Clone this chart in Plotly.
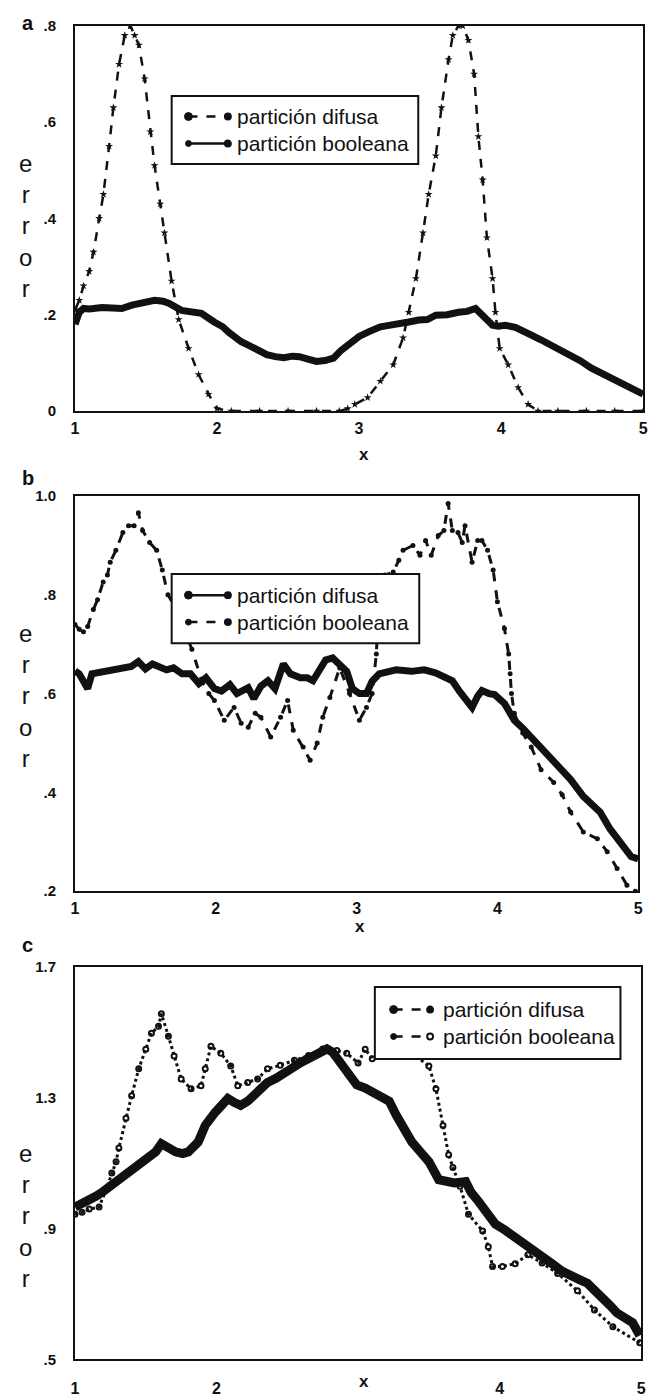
import plotly.graph_objects as go

# ---------------- data ----------------
# panel a
xa_dif = [1.0,1.03,1.06,1.1,1.19,1.26,1.33,1.4,1.47,1.56,1.62,1.66,1.75,1.82,1.89,1.98,2.04,2.08,2.13,2.17,2.22,2.26,2.3,2.35,2.41,2.47,2.53,2.58,2.64,2.7,2.76,2.82,2.87,2.93,3.0,3.07,3.15,3.21,3.28,3.35,3.42,3.48,3.54,3.62,3.7,3.76,3.82,3.87,3.91,3.94,3.98,4.03,4.1,4.15,4.21,4.28,4.35,4.42,4.49,4.56,4.63,4.7,4.77,4.84,4.91,4.98,5.0]
ya_dif = [0.18,0.205,0.213,0.212,0.215,0.213,0.213,0.22,0.226,0.23,0.228,0.224,0.209,0.205,0.203,0.185,0.175,0.164,0.152,0.144,0.137,0.131,0.124,0.117,0.113,0.111,0.114,0.113,0.108,0.103,0.105,0.11,0.125,0.14,0.155,0.165,0.175,0.178,0.183,0.185,0.189,0.19,0.199,0.2,0.205,0.207,0.213,0.2,0.19,0.178,0.176,0.178,0.174,0.168,0.158,0.148,0.137,0.127,0.117,0.104,0.09,0.08,0.07,0.06,0.049,0.039,0.035]
xa_bool = [1.0,1.03,1.06,1.1,1.13,1.17,1.2,1.24,1.27,1.31,1.35,1.39,1.42,1.45,1.49,1.53,1.56,1.6,1.63,1.68,1.73,1.8,1.87,1.94,2.0,2.1,2.3,2.5,2.7,2.86,2.92,2.97,3.06,3.15,3.24,3.31,3.35,3.4,3.45,3.49,3.54,3.58,3.63,3.66,3.7,3.73,3.77,3.81,3.84,3.87,3.9,3.94,3.96,3.99,4.05,4.12,4.19,4.26,4.4,4.6,4.8,5.0]
ya_bool = [0.21,0.23,0.26,0.29,0.33,0.4,0.45,0.55,0.63,0.72,0.78,0.8,0.78,0.76,0.69,0.58,0.51,0.43,0.37,0.27,0.19,0.13,0.076,0.035,0.005,0,0,0,0,0,0.005,0.014,0.028,0.062,0.096,0.152,0.205,0.275,0.37,0.45,0.53,0.63,0.73,0.78,0.8,0.8,0.77,0.70,0.57,0.48,0.36,0.275,0.205,0.13,0.096,0.049,0.014,0,0,0,0,0]

# panel b
xb_dif = [1.0,1.03,1.06,1.09,1.12,1.2,1.3,1.4,1.45,1.5,1.55,1.6,1.65,1.7,1.76,1.82,1.88,1.93,1.99,2.04,2.1,2.15,2.2,2.23,2.27,2.32,2.37,2.42,2.48,2.53,2.6,2.65,2.69,2.73,2.78,2.83,2.87,2.93,2.97,3.02,3.07,3.11,3.16,3.22,3.28,3.39,3.48,3.56,3.62,3.68,3.73,3.77,3.82,3.86,3.89,3.94,3.98,4.05,4.12,4.18,4.24,4.33,4.43,4.52,4.61,4.68,4.73,4.8,4.89,4.95,5.0]
yb_dif = [0.646,0.64,0.625,0.61,0.64,0.645,0.65,0.655,0.665,0.65,0.66,0.655,0.648,0.652,0.64,0.64,0.62,0.632,0.61,0.605,0.618,0.6,0.61,0.612,0.59,0.615,0.626,0.61,0.66,0.64,0.632,0.632,0.626,0.646,0.668,0.672,0.66,0.645,0.61,0.6,0.6,0.625,0.64,0.645,0.648,0.645,0.648,0.642,0.635,0.626,0.605,0.592,0.572,0.595,0.606,0.6,0.598,0.58,0.546,0.53,0.512,0.48,0.452,0.426,0.392,0.375,0.36,0.326,0.292,0.27,0.265]
xb_bool = [1.0,1.03,1.06,1.09,1.13,1.16,1.2,1.23,1.25,1.29,1.34,1.38,1.42,1.45,1.48,1.53,1.58,1.62,1.66,1.7,1.76,1.83,1.9,1.95,1.99,2.06,2.13,2.18,2.23,2.28,2.32,2.39,2.46,2.51,2.55,2.62,2.67,2.72,2.76,2.81,2.88,2.95,3.02,3.07,3.11,3.14,3.16,3.2,3.26,3.3,3.33,3.4,3.45,3.49,3.53,3.58,3.62,3.65,3.68,3.72,3.75,3.77,3.82,3.86,3.89,3.93,3.97,4.0,4.05,4.08,4.09,4.1,4.12,4.18,4.24,4.31,4.4,4.46,4.52,4.61,4.71,4.78,4.85,4.92,4.98]
yb_bool = [0.74,0.73,0.725,0.736,0.77,0.79,0.826,0.84,0.866,0.89,0.926,0.94,0.94,0.966,0.93,0.906,0.89,0.85,0.8,0.78,0.74,0.69,0.626,0.6,0.586,0.546,0.572,0.54,0.532,0.56,0.552,0.512,0.552,0.586,0.526,0.492,0.465,0.5,0.552,0.592,0.652,0.6,0.546,0.572,0.6,0.68,0.8,0.84,0.846,0.87,0.89,0.9,0.88,0.91,0.88,0.92,0.93,0.985,0.93,0.926,0.906,0.94,0.866,0.91,0.91,0.89,0.85,0.786,0.732,0.68,0.64,0.6,0.56,0.52,0.492,0.446,0.42,0.395,0.36,0.32,0.306,0.28,0.246,0.212,0.2]

# panel c
xc_dif = [1.0,1.05,1.1,1.15,1.2,1.25,1.29,1.34,1.38,1.43,1.47,1.52,1.57,1.61,1.66,1.71,1.76,1.8,1.87,1.92,1.99,2.04,2.08,2.13,2.17,2.22,2.26,2.31,2.36,2.42,2.47,2.53,2.59,2.65,2.71,2.78,2.82,2.87,2.93,2.99,3.05,3.1,3.16,3.22,3.27,3.33,3.38,3.44,3.5,3.57,3.62,3.68,3.76,3.8,3.85,3.91,3.97,4.04,4.11,4.17,4.23,4.3,4.37,4.44,4.5,4.56,4.62,4.68,4.73,4.78,4.83,4.89,4.94,4.99]
yc_dif = [0.966,0.975,0.984,1.0,1.014,1.03,1.044,1.06,1.074,1.09,1.105,1.12,1.135,1.16,1.145,1.135,1.13,1.135,1.165,1.216,1.256,1.28,1.298,1.285,1.277,1.29,1.307,1.325,1.347,1.36,1.377,1.39,1.407,1.42,1.437,1.45,1.44,1.41,1.37,1.34,1.33,1.316,1.305,1.29,1.247,1.2,1.165,1.135,1.105,1.05,1.044,1.04,1.044,1.01,0.984,0.95,0.914,0.895,0.875,0.855,0.833,0.815,0.793,0.77,0.754,0.745,0.733,0.71,0.693,0.665,0.642,0.625,0.612,0.573]
xc_bool = [1.0,1.05,1.1,1.17,1.22,1.26,1.29,1.31,1.36,1.4,1.45,1.5,1.54,1.59,1.61,1.66,1.7,1.75,1.82,1.89,1.92,1.96,2.03,2.1,2.15,2.22,2.29,2.36,2.45,2.55,2.65,2.75,2.85,2.92,3.0,3.05,3.1,3.2,3.3,3.4,3.5,3.55,3.6,3.64,3.67,3.72,3.78,3.88,3.92,3.95,4.02,4.11,4.2,4.3,4.41,4.55,4.67,4.8,4.99]
yc_bool = [0.944,0.95,0.96,0.966,1.02,1.07,1.105,1.147,1.238,1.307,1.389,1.449,1.498,1.519,1.558,1.489,1.428,1.358,1.328,1.337,1.389,1.458,1.437,1.398,1.337,1.347,1.358,1.389,1.4,1.415,1.43,1.45,1.445,1.437,1.407,1.449,1.42,1.43,1.43,1.43,1.398,1.328,1.216,1.126,1.087,1.03,0.944,0.893,0.845,0.784,0.784,0.793,0.82,0.795,0.763,0.71,0.651,0.6,0.551]

names = ["partición difusa", "partición booleana"]
x_ticks = [1, 2, 3, 4, 5]
x_ticks_c = [1, 2, 4, 5]
ya_ticks = [0, 0.2, 0.4, 0.6, 0.8]
ya_text = ["0", ".2", ".4", ".6", ".8"]
yb_ticks = [0.2, 0.4, 0.6, 0.8, 1.0]
yb_text = [".2", ".4", ".6", ".8", "1.0"]
yc_ticks = [0.5, 0.9, 1.3, 1.7]
yc_text = [".5", ".9", "1.3", "1.7"]

# ---------------- layout helpers ----------------
W, H = 658, 1400
FONT = "Liberation Sans, Arial, sans-serif"
INK = "#111111"


def px(x):
    return x / W


def py(y):
    return 1 - y / H


fig = go.Figure()

# panel a
fig.add_trace(go.Scatter(x=xa_dif, y=ya_dif, name=names[0], mode="lines",
                         line=dict(color=INK, width=7), xaxis="x", yaxis="y"))
fig.add_trace(go.Scatter(x=xa_bool, y=ya_bool, name=names[1], mode="lines+markers",
                         line=dict(color=INK, width=2.5, dash="dash"),
                         marker=dict(symbol="star", size=6, color=INK), xaxis="x", yaxis="y"))
# panel b
fig.add_trace(go.Scatter(x=xb_dif, y=yb_dif, name=names[0], mode="lines",
                         line=dict(color=INK, width=7), xaxis="x2", yaxis="y2"))
fig.add_trace(go.Scatter(x=xb_bool, y=yb_bool, name=names[1], mode="lines+markers",
                         line=dict(color=INK, width=3, dash="dash"),
                         marker=dict(symbol="circle", size=5, color=INK), xaxis="x2", yaxis="y2"))
# panel c
fig.add_trace(go.Scatter(x=xc_dif, y=yc_dif, name=names[0], mode="lines",
                         line=dict(color=INK, width=9), xaxis="x3", yaxis="y3"))
fig.add_trace(go.Scatter(x=xc_bool, y=yc_bool, name=names[1], mode="lines+markers",
                         line=dict(color=INK, width=3, dash="dot"),
                         marker=dict(symbol="circle-open", size=5, color=INK, line=dict(width=2)),
                         xaxis="x3", yaxis="y3"))

panels = [
    # (xdom px, ydom px, yrange, yticks, ytext, xticks, x tick standoff)
    ((72, 648), (17, 407), [0, 0.8], ya_ticks, ya_text, x_ticks, 2),
    ((72, 643), (493, 893), [0.2, 1.0], yb_ticks, yb_text, x_ticks, 2),
    ((72, 646), (970, 1367), [0.5, 1.7], yc_ticks, yc_text, x_ticks_c, 13),
]

layout = dict(
    width=W, height=H, margin=dict(l=0, r=0, t=0, b=0),
    paper_bgcolor="white", plot_bgcolor="white", showlegend=False,
    font=dict(family=FONT, color=INK),
)
for i, (xd, yd, yr, yt, ytx, xt, xso) in enumerate(panels):
    sfx = "" if i == 0 else str(i + 1)
    layout["xaxis" + sfx] = dict(
        domain=[px(xd[0]), px(xd[1])], range=[1, 5], anchor="y" + sfx,
        tickvals=xt, ticktext=[str(v) for v in xt], ticks="", showgrid=False,
        zeroline=False, showline=True, mirror=True, linewidth=2, linecolor=INK,
        tickfont=dict(size=16, family=FONT, weight="bold"), ticklabelstandoff=xso)
    layout["yaxis" + sfx] = dict(
        domain=[py(yd[1]), py(yd[0])], range=yr, anchor="x" + sfx,
        tickvals=yt, ticktext=ytx, ticks="", showgrid=False,
        zeroline=False, showline=True, mirror=True, linewidth=2, linecolor=INK,
        tickfont=dict(size=15, family=FONT, weight="bold"), ticklabelstandoff=14)

annotations = []
shapes = []
# panel letters
for lab, (lx, ly) in zip(["a", "b", "c"], [(24, 14), (24, 475), (24, 947)]):
    annotations.append(dict(text="<b>%s</b>" % lab, x=px(lx), y=py(ly), xref="paper", yref="paper",
                            xanchor="center", yanchor="middle", showarrow=False,
                            font=dict(size=20, family=FONT, color=INK)))
# vertical "error" titles
for cy in [220, 695, 1222]:
    annotations.append(dict(text="e<br>r<br>r<br>o<br>r", x=px(22), y=py(cy), xref="paper", yref="paper",
                            xanchor="center", yanchor="middle", showarrow=False,
                            font=dict(size=24, family=FONT, color=INK)))
# x titles
for (xx, yy) in [(365, 451), (361, 929), (365, 1389)]:
    annotations.append(dict(text="<b>x</b>", x=px(xx), y=py(yy), xref="paper", yref="paper",
                            xanchor="center", yanchor="middle", showarrow=False,
                            font=dict(size=17, family=FONT, color=INK)))

# legends drawn by hand (box, sample, text)
LEG_FS = 21
ROW = LEG_FS * 1.3
legends = [
    # box (x0,x1,y0,y1), text left, sample x (start,end), line dashes, end markers
    ((170, 420, 88, 157), 237, (187, 227), ("dash", "solid"), ("circle", "circle")),
    ((170, 421, 572, 642), 237, (187, 227), ("solid", "dash"), ("circle", "circle")),
    ((376, 625, 990, 1063), 446, (395, 432), ("dash", "dash"), ("circle", "open")),
]
for (bx0, bx1, by0, by1), tx, (sx0, sx1), dashes, ends in legends:
    shapes.append(dict(type="rect", xref="paper", yref="paper", x0=px(bx0), x1=px(bx1),
                       y0=py(by1), y1=py(by0), line=dict(color=INK, width=2), fillcolor="white",
                       layer="above"))
    cy = (by0 + by1) / 2
    rows = (cy - ROW / 2, cy + ROW / 2)
    for r, ry in enumerate(rows):
        shapes.append(dict(type="line", xref="paper", yref="paper", x0=px(sx0), x1=px(sx1),
                           y0=py(ry), y1=py(ry), line=dict(color=INK, width=2.5, dash=dashes[r]),
                           layer="above"))
        rad = 4 if r == 0 else 3
        shapes.append(dict(type="circle", xref="paper", yref="paper", x0=px(sx0 - rad), x1=px(sx0 + rad),
                           y0=py(ry + rad), y1=py(ry - rad), fillcolor=INK, line=dict(color=INK, width=1),
                           layer="above"))
        fill = "white" if ends[r] == "open" else INK
        shapes.append(dict(type="circle", xref="paper", yref="paper", x0=px(sx1 - 3), x1=px(sx1 + 3),
                           y0=py(ry + 3), y1=py(ry - 3), fillcolor=fill, line=dict(color=INK, width=2),
                           layer="above"))
    annotations.append(dict(text="<br>".join(names), x=px(tx - 3), y=py(cy), xref="paper", yref="paper",
                            xanchor="left", yanchor="middle", align="left", showarrow=False,
                            font=dict(size=LEG_FS, family=FONT, color=INK)))

layout["annotations"] = annotations
layout["shapes"] = shapes
fig.update_layout(**layout)
fig.write_html("out.html")
